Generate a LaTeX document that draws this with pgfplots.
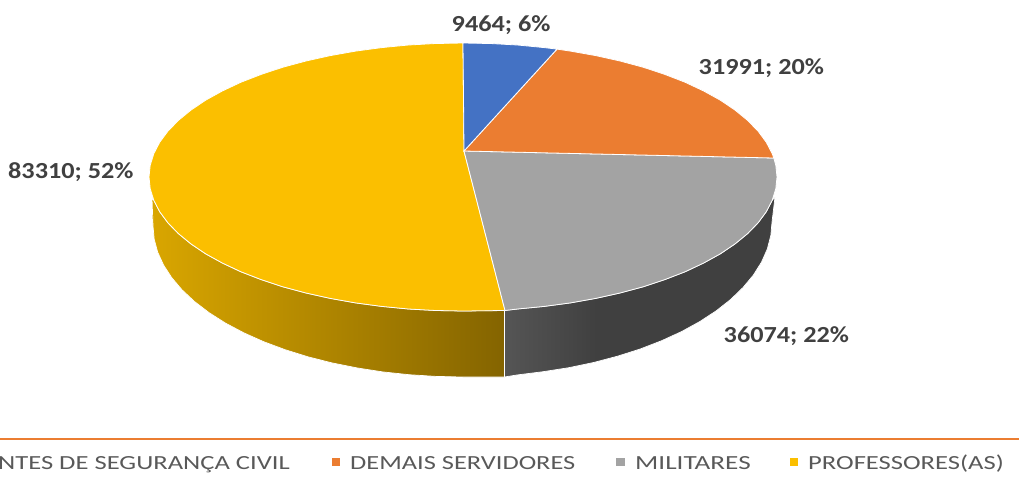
\documentclass[border=0pt]{standalone}
\usepackage{pgfplots}
\pgfplotsset{compat=1.18}
\usepackage{graphicx}
\usepackage{fontspec}
\setmainfont{Carlito}
\definecolor{cblue}{HTML}{4472C4}
\definecolor{corange}{HTML}{EB7D31}
\definecolor{cgray}{HTML}{A3A3A3}
\definecolor{cyellow}{HTML}{FBBF00}
\definecolor{ya}{HTML}{D9A600}
\definecolor{yb}{HTML}{846400}
\definecolor{ga}{HTML}{555555}
\definecolor{gb}{HTML}{404040}
\pgfdeclarehorizontalshading{yellowside}{100bp}{color(0bp)=(ya);color(25bp)=(ya);color(75bp)=(yb);color(100bp)=(yb)}
\pgfdeclarehorizontalshading{grayside}{100bp}{color(0bp)=(ga);color(25bp)=(ga);color(42bp)=(gb);color(100bp)=(gb)}
\newcommand{\lab}[1]{\scalebox{1.14}[1]{\fontsize{23}{23}\selectfont\bfseries\color[HTML]{404040}#1}}
\newcommand{\leg}[2]{\scalebox{#1}[1]{\fontsize{20}{20}\selectfont\color[HTML]{595959}#2}}
\begin{document}
\begin{tikzpicture}[x=1pt,y=1pt]
\path[use as bounding box,clip] (0,0) rectangle (1019pt,477pt);
\begin{axis}[at={(0,0)},anchor=south west,scale only axis,width=1019pt,height=477pt,
  xmin=0,xmax=1019,ymin=0,ymax=477,y dir=reverse,hide axis,clip=false]
% sides
\addplot[shade,shading=yellowside,draw=white,line width=0.7pt] coordinates {
(152,198)(153.8,200.3)(159.7,211.7)(167.9,222.8)(178.4,233.6)(191.1,244)(205.8,253.9)(222.5,263.1)(241,271.8)(261.2,279.6)(282.9,286.8)(306,293)(330.3,298.4)(355.6,302.9)(381.7,306.4)(408.5,309)(435.6,310.5)(463,311)(504.5,310.5)
(504.5,377)(463,377)(436,376.4)(409.2,374.7)(382.8,371.9)(357,367.9)(332,362.9)(308,356.8)(285.2,349.7)(263.7,341.7)(243.8,332.8)(225.5,323.1)(209,312.6)(194.5,301.5)(182,289.8)(171.7,277.6)(163.6,265.1)(157.7,252.2)(154.2,239.2)(153,226)} --cycle;
\addplot[shade,shading=grayside,draw=white,line width=0.7pt] coordinates {
(504.5,310.5)(517.5,309)(544.3,306.4)(570.4,302.9)(595.7,298.4)(620,293)(643.1,286.8)(664.8,279.6)(685,271.8)(703.5,263.1)(720.2,253.9)(734.9,244)(747.6,233.6)(758.1,222.8)(766.3,211.7)(772.2,200.3)(775,197)
(772,222)(770.8,235.5)(767.3,249)(761.5,262.1)(753.4,275)(743,287.5)(730.6,299.5)(716.1,310.9)(699.7,321.6)(681.5,331.6)(661.6,340.7)(640.2,349)(617.5,356.2)(593.6,362.5)(568.7,367.7)(543,371.7)(516.7,375)(504.5,377)} --cycle;
% top faces
\addplot[fill=cyellow,draw=white,line width=0.8pt] coordinates {
(464,151)(505,310.5)(463,311)(435.6,310.5)(408.5,309)(381.7,306.4)(355.6,302.9)(330.3,298.4)(306,293)(282.9,286.8)(261.2,279.6)(241,271.8)(222.5,263.1)(205.8,253.9)(191.1,244)(178.4,233.6)(167.9,222.8)(159.7,211.7)(153.8,200.3)(150.2,188.7)(149,177)(150.2,165.3)(153.8,153.7)(159.7,142.3)(167.9,131.2)(178.4,120.4)(191.1,110)(205.8,100.1)(222.5,90.9)(241,82.2)(261.2,74.4)(282.9,67.2)(306,61)(330.3,55.6)(355.6,51.1)(381.7,47.6)(408.5,45)(435.6,43.5)(463,43)} --cycle;
\addplot[fill=cgray,draw=white,line width=0.8pt] coordinates {
(464,151)(773.8,158)(775.8,165.3)(777,177)(775.8,188.7)(772.2,200.3)(766.3,211.7)(758.1,222.8)(747.6,233.6)(734.9,244)(720.2,253.9)(703.5,263.1)(685,271.8)(664.8,279.6)(643.1,286.8)(620,293)(595.7,298.4)(570.4,302.9)(544.3,306.4)(517.5,309)(505,310.5)} --cycle;
\addplot[fill=corange,draw=white,line width=0.8pt] coordinates {
(464,151)(557,49.1)(570.4,51.1)(595.7,55.6)(620,61)(643.1,67.2)(664.8,74.4)(685,82.2)(703.5,90.9)(720.2,100.1)(734.9,110)(747.6,120.4)(758.1,131.2)(766.3,142.3)(772.2,153.7)(773.8,158)} --cycle;
\addplot[fill=cblue,draw=white,line width=0.8pt] coordinates {
(464,151)(463,43)(490.4,43.5)(517.5,45)(544.3,47.6)(557,49.1)} --cycle;
% legend rule and keys
\addplot[color=corange,line width=2pt] coordinates {(0,439)(1019,439)};
\addplot[only marks,mark=square*,mark size=3.8pt,color=corange] coordinates {(335.5,461.5)};
\addplot[only marks,mark=square*,mark size=3.8pt,color=cgray] coordinates {(620,461.5)};
\addplot[only marks,mark=square*,mark size=3.8pt,color=cyellow] coordinates {(793.5,461.5)};
% labels
\node[anchor=base west,inner sep=0pt] at (axis cs:451.5,31) {\lab{9464; 6\%}};
\node[anchor=base west,inner sep=0pt] at (axis cs:698.5,74) {\lab{31991; 20\%}};
\node[anchor=base west,inner sep=0pt] at (axis cs:8,178) {\lab{83310; 52\%}};
\node[anchor=base west,inner sep=0pt] at (axis cs:723.5,342) {\lab{36074; 22\%}};
\node[anchor=base east,inner sep=0pt] at (axis cs:290,469) {\leg{1.33}{AGENTES DE SEGURANÇA CIVIL}};
\node[anchor=base west,inner sep=0pt] at (axis cs:350,469) {\leg{1.32}{DEMAIS SERVIDORES}};
\node[anchor=base west,inner sep=0pt] at (axis cs:635,469) {\leg{1.36}{MILITARES}};
\node[anchor=base west,inner sep=0pt] at (axis cs:808,469) {\leg{1.33}{PROFESSORES(AS)}};
\end{axis}
\end{tikzpicture}
\end{document}
